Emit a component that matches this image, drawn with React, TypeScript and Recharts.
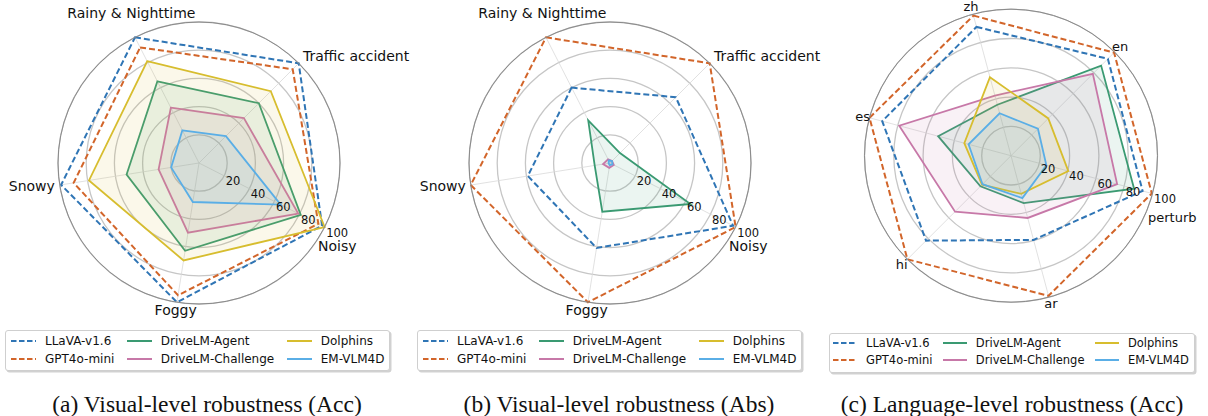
import React from "react";
import {
  PolarAngleAxis,
  PolarGrid,
  PolarRadiusAxis,
  Radar,
  RadarChart,
} from "recharts";

const visualAxes = ["Rainy & Nighttime", "Traffic accident", "Noisy", "Foggy", "Snowy"];
const languageAxes = ["zh", "en", "perturb", "ar", "hi", "es"];
const models = [
  "LLaVA-v1.6",
  "GPT4o-mini",
  "DriveLM-Agent",
  "DriveLM-Challenge",
  "Dolphins",
  "EM-VLM4D",
];

// (a) visual-level robustness, accuracy
const accLlava = [100, 100, 98, 100, 99];
const accGpt = [92, 94, 95, 95, 90];
const accAgent = [65, 60, 81, 63, 52];
const accChallenge = [44, 45, 79, 50, 29];
const accDolphins = [81, 72, 100, 70, 79];
const accEmVlm = [26, 27, 65, 28, 20];

// (b) visual-level robustness, abs
const absLlava = [60, 66, 98, 61, 59];
const absGpt = [100, 100, 100, 100, 100];
const absAgent = [34, 10, 64, 35, 11];
const absChallenge = [3, 2, 3, 3.5, 5];
const absDolphins = [0, 0, 0, 0, 0];
const absEmVlm = [2, 2, 2, 1.5, 1];

// (c) language-level robustness, accuracy
const langLlava = [91, 93.5, 93, 59.5, 82, 91];
const langGpt = [99, 99.5, 99.5, 99, 100, 100];
const langAgent = [36, 87, 87, 33.5, 29.5, 51.5];
const langChallenge = [42.5, 79, 75, 44, 54, 79];
const langDolphins = [55.5, 36, 40.5, 27, 28, 33];
const langEmVlm = [30, 26, 25, 30, 27.5, 30];

const seriesColors = ["#2f75b5", "#d2652a", "#3a9a72", "#c778a8", "#d7bd2e", "#5aaee6"];
const dashedSeries = [true, true, false, false, false, false];

const chartFont = "'DejaVu Sans', sans-serif";

// where each category label sits relative to the library's tick point
const labelPlacement: Record<string, { anchor: "start" | "middle" | "end"; dx: number; dy: number }> = {
  "Rainy & Nighttime": { anchor: "middle", dx: 0, dy: -17.5 },
  "Traffic accident": { anchor: "start", dx: -1.4, dy: -1.6 },
  Noisy: { anchor: "middle", dx: 5.5, dy: 15.5 },
  Foggy: { anchor: "middle", dx: 0, dy: 0 },
  Snowy: { anchor: "end", dx: 3, dy: -0.6 },
  zh: { anchor: "middle", dx: 0, dy: 0 },
  en: { anchor: "middle", dx: 0, dy: 0 },
  perturb: { anchor: "middle", dx: 12, dy: 22 },
  ar: { anchor: "middle", dx: 0, dy: -1.6 },
  hi: { anchor: "middle", dx: 0, dy: -0.6 },
  es: { anchor: "middle", dx: 0.8, dy: 0.3 },
};

const buildRows = (axes: string[], series: number[][]) =>
  axes.map((axis, i) => {
    const row: Record<string, string | number> = { axis };
    series.forEach((vals, s) => {
      row[`m${s}`] = vals[i];
    });
    return row;
  });

const panels = [
  {
    id: "a",
    left: 0,
    width: 440,
    cx: 199,
    cy: 163,
    radius: 141,
    startAngle: 117,
    radiusAngle: -27,
    labelSize: 14,
    axes: visualAxes,
    series: [accLlava, accGpt, accAgent, accChallenge, accDolphins, accEmVlm],
    caption: "(a) Visual-level robustness (Acc)",
    captionCenter: 207,
  },
  {
    id: "b",
    left: 405,
    width: 440,
    cx: 205,
    cy: 163,
    radius: 141,
    startAngle: 117,
    radiusAngle: -27,
    labelSize: 14,
    axes: visualAxes,
    series: [absLlava, absGpt, absAgent, absChallenge, absDolphins, absEmVlm],
    caption: "(b) Visual-level robustness (Abs)",
    captionCenter: 619,
  },
  {
    id: "c",
    left: 805,
    width: 403,
    cx: 206,
    cy: 155.7,
    radius: 146.5,
    startAngle: 105,
    radiusAngle: -15,
    labelSize: 13,
    axes: languageAxes,
    series: [langLlava, langGpt, langAgent, langChallenge, langDolphins, langEmVlm],
    caption: "(c) Language-level robustness (Acc)",
    captionCenter: 1012,
  },
];

const legends = [
  { left: 5, top: 330, fontSize: 12, rowHeight: 17.7, padLeft: 5, handle: 25, colGap: 12.5 },
  { left: 417, top: 330, fontSize: 12, rowHeight: 17.7, padLeft: 5, handle: 25, colGap: 12.5 },
  { left: 829, top: 332.5, fontSize: 11.5, rowHeight: 17.3, padLeft: 3, handle: 24, colGap: 10.4 },
];

function AngleTick(props: any) {
  const { x, y, payload, fontSize } = props;
  const place = labelPlacement[payload.value] ?? { anchor: "middle", dx: 0, dy: 0 };
  return (
    <text
      x={x + place.dx}
      y={y + place.dy}
      textAnchor={place.anchor}
      dominantBaseline="central"
      fontSize={fontSize}
      fontFamily={chartFont}
      fill="#111"
    >
      {payload.value}
    </text>
  );
}

function RadiusTick(props: any) {
  const { x, y, payload } = props;
  if (!payload || payload.value === 0) return <g />;
  return (
    <text
      x={x + 1.5}
      y={y + 5.5}
      textAnchor="start"
      dominantBaseline="central"
      fontSize={11.5}
      fontFamily={chartFont}
      fill="#111"
    >
      {payload.value}
    </text>
  );
}

function RadarPanel({ p }: { p: (typeof panels)[number] }) {
  const data = buildRows(p.axes, p.series);
  return (
    <div style={{ position: "absolute", left: p.left, top: 0 }}>
      <RadarChart
        width={p.width}
        height={330}
        data={data}
        cx={p.cx}
        cy={p.cy}
        outerRadius={p.radius}
        startAngle={p.startAngle}
        endAngle={p.startAngle - 360}
        margin={{ top: 0, right: 0, bottom: 0, left: 0 }}
        style={{ overflow: "visible" }}
      >
        <PolarGrid gridType="circle" radialLines={false} stroke="#c6c6c6" strokeWidth={1.3} />
        <PolarGrid gridType="circle" polarRadius={[0]} stroke="#d9d9d9" strokeWidth={0.8} />
        <PolarAngleAxis
          dataKey="axis"
          axisLineType="circle"
          axisLine={{ stroke: "#8a8a8a", strokeWidth: 1 }}
          tickLine={false}
          tick={(props: any) => <AngleTick {...props} fontSize={p.labelSize} />}
        />
        <PolarRadiusAxis
          angle={p.radiusAngle}
          domain={[0, 100]}
          tickCount={6}
          axisLine={false}
          tickLine={false}
          tick={RadiusTick}
        />
        {models.map((m, s) => (
          <Radar
            key={m}
            name={m}
            dataKey={`m${s}`}
            stroke={seriesColors[s]}
            strokeWidth={dashedSeries[s] ? 2 : 1.8}
            strokeDasharray={dashedSeries[s] ? "6 3" : undefined}
            fill={seriesColors[s]}
            fillOpacity={dashedSeries[s] ? 0 : 0.1}
            dot={false}
            isAnimationActive={false}
          />
        ))}
      </RadarChart>
    </div>
  );
}

function LegendBox({ l }: { l: (typeof legends)[number] }) {
  return (
    <div
      style={{
        position: "absolute",
        left: l.left,
        top: l.top,
        border: "1px solid #cfcfcf",
        borderRadius: 3,
        background: "#fff",
        boxShadow: "1.5px 1.5px 0 rgba(0,0,0,0.18)",
        padding: `1px 5px 3px ${l.padLeft}px`,
        display: "grid",
        gridTemplateRows: `repeat(2, ${l.rowHeight}px)`,
        gridAutoFlow: "column",
        columnGap: l.colGap,
        fontFamily: chartFont,
        fontSize: l.fontSize,
        color: "#111",
      }}
    >
      {models.map((m, s) => (
        <div key={m} style={{ display: "flex", alignItems: "center", whiteSpace: "nowrap" }}>
          <svg width={l.handle} height={6} style={{ marginRight: 9, flex: "none" }}>
            <line
              x1={0}
              y1={3}
              x2={l.handle}
              y2={3}
              stroke={seriesColors[s]}
              strokeWidth={2}
              strokeDasharray={dashedSeries[s] ? "5.5 2.5" : undefined}
            />
          </svg>
          <span>{m}</span>
        </div>
      ))}
    </div>
  );
}

export default function App() {
  return (
    <div
      style={{
        position: "absolute",
        left: 0,
        top: 0,
        width: 1208,
        height: 416,
        background: "#fff",
        overflow: "hidden",
      }}
    >
      {panels.map((p) => (
        <RadarPanel key={p.id} p={p} />
      ))}
      {legends.map((l, i) => (
        <LegendBox key={i} l={l} />
      ))}
      {panels.map((p) => (
        <div
          key={`cap-${p.id}`}
          style={{
            position: "absolute",
            left: p.captionCenter - 250,
            width: 500,
            top: 392.8,
            textAlign: "center",
            fontFamily: "'Liberation Serif', 'Times New Roman', serif",
            fontSize: 23.5,
            lineHeight: 1,
            color: "#111",
            whiteSpace: "nowrap",
          }}
        >
          {p.caption}
        </div>
      ))}
    </div>
  );
}
